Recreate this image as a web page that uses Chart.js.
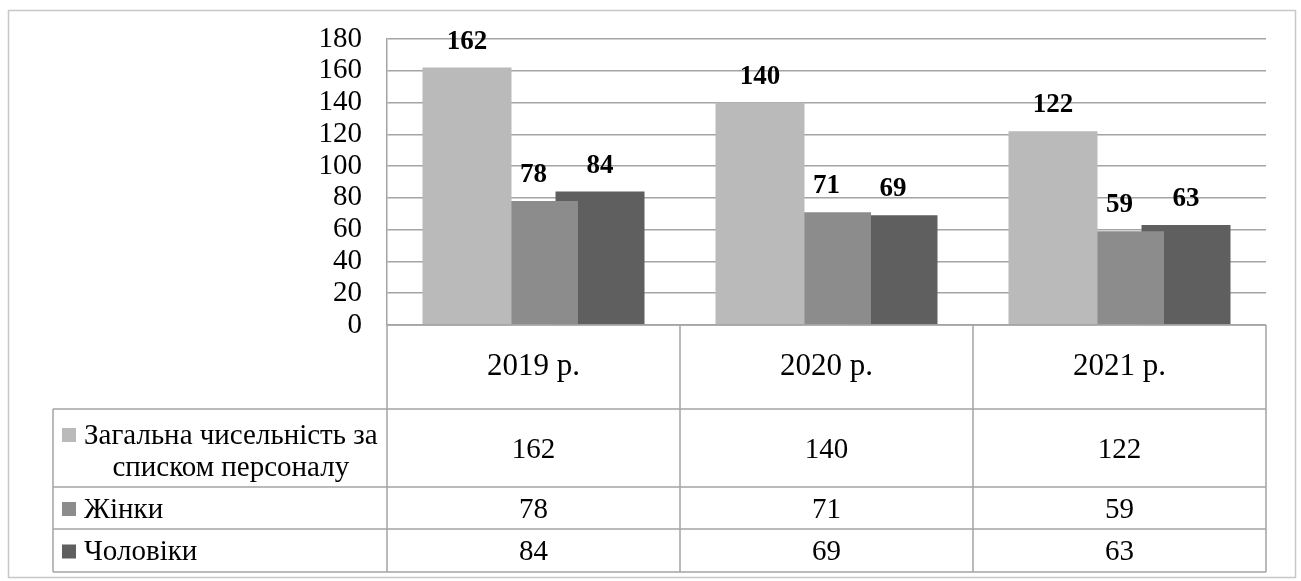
<!DOCTYPE html>
<html>
<head>
<meta charset="utf-8">
<script src="https://cdn.jsdelivr.net/npm/chart.js@4/dist/chart.umd.min.js"></script>
<style>
  html, body { margin: 0; padding: 0; background: #fff; }
  #wrap { width: 1301px; height: 581px; }
  #probe { position: absolute; left: -9999px; top: 0; font-family: "Liberation Serif"; font-size: 27px; }
  #probeB { position: absolute; left: -9999px; top: 40px; font-family: "Liberation Serif"; font-weight: bold; font-size: 27px; }
</style>
</head>
<body>
<span id="probe">Загальна 2019 р. 0123456789</span>
<span id="probeB">0123456789</span>
<div id="wrap"><canvas id="staffChart" width="1301" height="581"></canvas></div>
<script>
// Chart data
const years = ['2019 р.', '2020 р.', '2021 р.'];
const seriesNames = [['Загальна чисельність за', 'списком персоналу'], ['Жінки'], ['Чоловіки']];
const totalStaff = [162, 140, 122];
const women = [78, 71, 59];
const men = [84, 69, 63];
const yTicks = [0, 20, 40, 60, 80, 100, 120, 140, 160, 180];

const seriesValues = [totalStaff, women, men];
const seriesColors = ['#bababa', '#8c8c8c', '#5f5f5f'];
const serif = '"Liberation Serif", "Times New Roman", Tinos, serif';
const lineColor = '#a4a4a4';

// Outer frame + white background
const framePlugin = {
  id: 'frame',
  beforeDraw(chart) {
    const ctx = chart.ctx;
    ctx.save();
    ctx.fillStyle = '#fff';
    ctx.fillRect(0, 0, chart.width, chart.height);
    ctx.strokeStyle = '#c8c8c8';
    ctx.lineWidth = 1.5;
    ctx.strokeRect(8.5, 10.5, 1287, 567);
    ctx.restore();
  }
};

// Value labels above bars
const valueLabels = {
  id: 'valueLabels',
  afterDatasetsDraw(chart) {
    const ctx = chart.ctx;
    ctx.save();
    ctx.font = 'bold 27px ' + serif;
    ctx.fillStyle = '#000';
    ctx.textAlign = 'center';
    ctx.textBaseline = 'middle';
    chart.data.datasets.forEach((ds, i) => {
      chart.getDatasetMeta(i).data.forEach((bar, j) => {
        ctx.fillText(ds.data[j], bar.x, bar.y - 26);
      });
    });
    ctx.restore();
  }
};

// Data table under the plot
const dataTable = {
  id: 'dataTable',
  afterDraw(chart) {
    const ctx = chart.ctx;
    const area = chart.chartArea;
    const x = chart.scales.x;
    const tableLeft = 53;
    const catW = (area.right - area.left) / years.length;
    const rows = [area.bottom, area.bottom + 84, area.bottom + 162, area.bottom + 204, area.bottom + 247];

    ctx.save();
    ctx.strokeStyle = lineColor;
    ctx.lineWidth = 1.5;
    ctx.beginPath();
    // horizontal lines
    ctx.moveTo(area.left, rows[0]); ctx.lineTo(area.right, rows[0]);
    for (let r = 1; r < rows.length; r++) {
      ctx.moveTo(tableLeft, rows[r]); ctx.lineTo(area.right, rows[r]);
    }
    // vertical lines
    ctx.moveTo(tableLeft, rows[1]); ctx.lineTo(tableLeft, rows[4]);
    for (let c = 0; c <= years.length; c++) {
      const cx = area.left + c * catW;
      ctx.moveTo(cx, rows[0]); ctx.lineTo(cx, rows[4]);
    }
    ctx.stroke();

    ctx.fillStyle = '#000';
    ctx.textAlign = 'center';
    ctx.textBaseline = 'middle';

    // header
    ctx.font = '31px ' + serif;
    years.forEach((y, i) => {
      ctx.fillText(y, x.getPixelForValue(i), (rows[0] + rows[1]) / 2);
    });

    // values
    ctx.font = '29px ' + serif;
    seriesValues.forEach((vals, s) => {
      const cy = (rows[s + 1] + rows[s + 2]) / 2;
      vals.forEach((v, i) => {
        ctx.fillText(v, x.getPixelForValue(i), cy + 2);
      });
    });

    // row labels with legend keys
    ctx.font = '29px ' + serif;
    seriesNames.forEach((lines, s) => {
      const top = rows[s + 1], bottom = rows[s + 2];
      const lh = 32;
      const firstY = (top + bottom) / 2 - (lines.length - 1) * lh / 2 + (lines.length > 1 ? 3 : 1);
      ctx.fillStyle = seriesColors[s];
      ctx.fillRect(62, firstY - 7, 14, 14);
      ctx.fillStyle = '#000';
      if (lines.length === 1) {
        ctx.textAlign = 'left';
        ctx.fillText(lines[0], 84, firstY + 1);
      } else {
        ctx.textAlign = 'center';
        const w = ctx.measureText(lines[0]).width;
        const mid = 84 + w / 2;
        lines.forEach((t, k) => ctx.fillText(t, mid, firstY + k * lh + 1));
      }
    });
    ctx.restore();
  }
};

function drawChart() {
  const ctx = document.getElementById('staffChart').getContext('2d');
  new Chart(ctx, {
    type: 'bar',
    data: {
      labels: years,
      datasets: seriesValues.map((vals, i) => ({
        label: seriesNames[i].join(' '),
        data: vals,
        backgroundColor: seriesColors[i],
        borderWidth: 0,
        categoryPercentage: 0.681,
        barPercentage: 1.338
      }))
    },
    options: {
      responsive: false,
      animation: false,
      events: [],
      layout: { padding: { left: 0, top: 39, right: 35, bottom: 256 } },
      plugins: {
        legend: { display: false },
        tooltip: { enabled: false }
      },
      scales: {
        x: { display: false },
        y: {
          min: 0,
          max: 180,
          afterBuildTicks: axis => { axis.ticks = yTicks.map(v => ({ value: v })); },
          afterFit: axis => {
            axis.width = 387;
            axis.paddingTop = 0;
            axis.paddingBottom = 0;
          },
          ticks: {
            color: '#000',
            padding: 25,
            autoSkip: false,
            font: { family: serif, size: 29 }
          },
          grid: { color: lineColor, lineWidth: 1.5, drawTicks: false },
          border: { display: true, color: lineColor, width: 1.5 }
        }
      }
    },
    plugins: [framePlugin, valueLabels, dataTable]
  });
}

Promise.all([
  document.fonts.load('27px "Liberation Serif"', 'Загальна 2019'),
  document.fonts.load('bold 27px "Liberation Serif"', '162')
]).catch(() => {}).then(() => document.fonts.ready).then(drawChart);
</script>
</body>
</html>
